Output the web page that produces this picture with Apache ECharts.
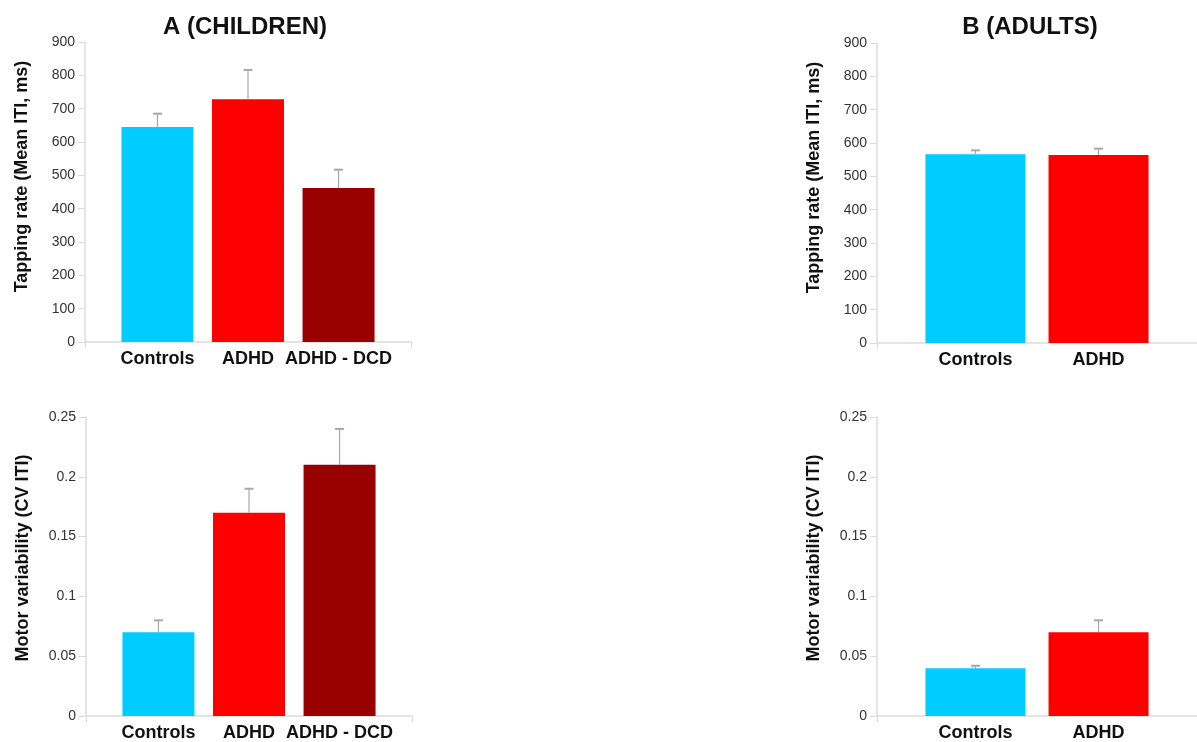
<!DOCTYPE html>
<html>
<head>
<meta charset="utf-8">
<script src="https://cdn.jsdelivr.net/npm/echarts@6/dist/echarts.min.js"></script>
<style>
  html, body { margin: 0; padding: 0; background: #fff; }
  #chart { width: 1197px; height: 742px; }
</style>
</head>
<body>
<div id="chart"></div>
<script>
// Group labels and colours
const childGroups = ['Controls', 'ADHD', 'ADHD - DCD'];
const adultGroups = ['Controls', 'ADHD'];
const groupColors = ['#00CCFF', '#FF0000', '#990000'];

// Tapping rate (mean ITI, ms) and upper error bars
const childRate = [645, 728, 462];
const childRateErr = [40, 88, 55];
const adultRate = [566, 564];
const adultRateErr = [12, 19];

// Motor variability (CV ITI) and upper error bars
const childCV = [0.07, 0.17, 0.21];
const childCVErr = [0.01, 0.02, 0.03];
const adultCV = [0.04, 0.07];
const adultCVErr = [0.002, 0.01];

const FONT = '"Liberation Sans", Arial, Helvetica, sans-serif';
const AXIS_GREY = '#dcdcdc';

const grids = [
  { left: 85, top: 42, width: 326, height: 300 },
  { left: 86, top: 417, width: 326, height: 301 },
  { left: 877, top: 43, width: 327, height: 300 },
  { left: 877, top: 417, width: 327, height: 300 }
];

function xAxisFor(gridIndex, cats) {
  const lo = -0.8, hi = cats.length - 0.2;
  return {
    type: 'value', gridIndex: gridIndex, min: lo, max: hi,
    splitLine: { show: false },
    axisLine: { show: true, onZero: false, lineStyle: { color: AXIS_GREY, width: 1.5 } },
    axisTick: { show: true, customValues: [lo, hi], length: 6, lineStyle: { color: AXIS_GREY } },
    axisLabel: {
      customValues: cats.map((c, i) => i),
      formatter: v => cats[Math.round(v)] || '',
      fontFamily: FONT, fontWeight: 'bold', fontSize: 18, color: '#111', margin: 8
    }
  };
}

// nameShift moves the rotated axis title upward along the axis
function yAxisFor(gridIndex, name, max, interval, nameShift) {
  return {
    type: 'value', gridIndex: gridIndex, min: 0, max: max, interval: interval,
    name: name, nameLocation: 'middle', nameRotate: 90, nameGap: 54,
    nameTextStyle: { fontFamily: FONT, fontWeight: 'bold', fontSize: 18, color: '#111', padding: [0, 0, 0, nameShift] },
    splitLine: { show: false },
    axisLine: { show: true, onZero: false, lineStyle: { color: AXIS_GREY, width: 1.5 } },
    axisTick: { show: true, length: 7, lineStyle: { color: AXIS_GREY } },
    axisLabel: { fontFamily: FONT, fontSize: 14, color: '#333', margin: 10 }
  };
}

function barSeries(idx, values, width) {
  return {
    type: 'bar', xAxisIndex: idx, yAxisIndex: idx, barWidth: width,
    data: values.map((v, i) => ({ value: [i, v], itemStyle: { color: groupColors[i] } })),
    silent: true
  };
}

function errSeries(idx, values, errs) {
  return {
    type: 'custom', xAxisIndex: idx, yAxisIndex: idx, z: 5, silent: true,
    data: values.map((v, i) => [i, v, v + errs[i]]),
    renderItem: function (params, api) {
      const base = api.coord([api.value(0), api.value(1)]);
      const top = api.coord([api.value(0), api.value(2)]);
      return {
        type: 'group',
        children: [
          { type: 'line', shape: { x1: base[0], y1: base[1], x2: top[0], y2: top[1] },
            style: { stroke: '#a8a8a8', lineWidth: 1.2 } },
          { type: 'line', shape: { x1: top[0] - 4.5, y1: top[1], x2: top[0] + 4.5, y2: top[1] },
            style: { stroke: '#a8a8a8', lineWidth: 2 } }
        ]
      };
    }
  };
}

const chart = echarts.init(document.getElementById('chart'), null, { renderer: 'canvas' });
chart.setOption({
  animation: false,
  backgroundColor: '#ffffff',
  title: [
    { text: 'A (CHILDREN)', left: 240, top: 10, textAlign: 'center',
      textStyle: { fontFamily: FONT, fontWeight: 'bold', fontSize: 24, color: '#111' } },
    { text: 'B (ADULTS)', left: 1025, top: 10, textAlign: 'center',
      textStyle: { fontFamily: FONT, fontWeight: 'bold', fontSize: 24, color: '#111' } }
  ],
  grid: grids,
  xAxis: [
    xAxisFor(0, childGroups),
    xAxisFor(1, childGroups),
    xAxisFor(2, adultGroups),
    xAxisFor(3, adultGroups)
  ],
  yAxis: [
    yAxisFor(0, 'Tapping rate (Mean ITI, ms)', 900, 100, 31),
    yAxisFor(1, 'Motor variability (CV ITI)', 0.25, 0.05, 17),
    yAxisFor(2, 'Tapping rate (Mean ITI, ms)', 900, 100, 31),
    yAxisFor(3, 'Motor variability (CV ITI)', 0.25, 0.05, 17)
  ],
  series: [
    barSeries(0, childRate, 72),
    errSeries(0, childRate, childRateErr),
    barSeries(1, childCV, 72),
    errSeries(1, childCV, childCVErr),
    barSeries(2, adultRate, 100),
    errSeries(2, adultRate, adultRateErr),
    barSeries(3, adultCV, 100),
    errSeries(3, adultCV, adultCVErr)
  ]
});
</script>
</body>
</html>
